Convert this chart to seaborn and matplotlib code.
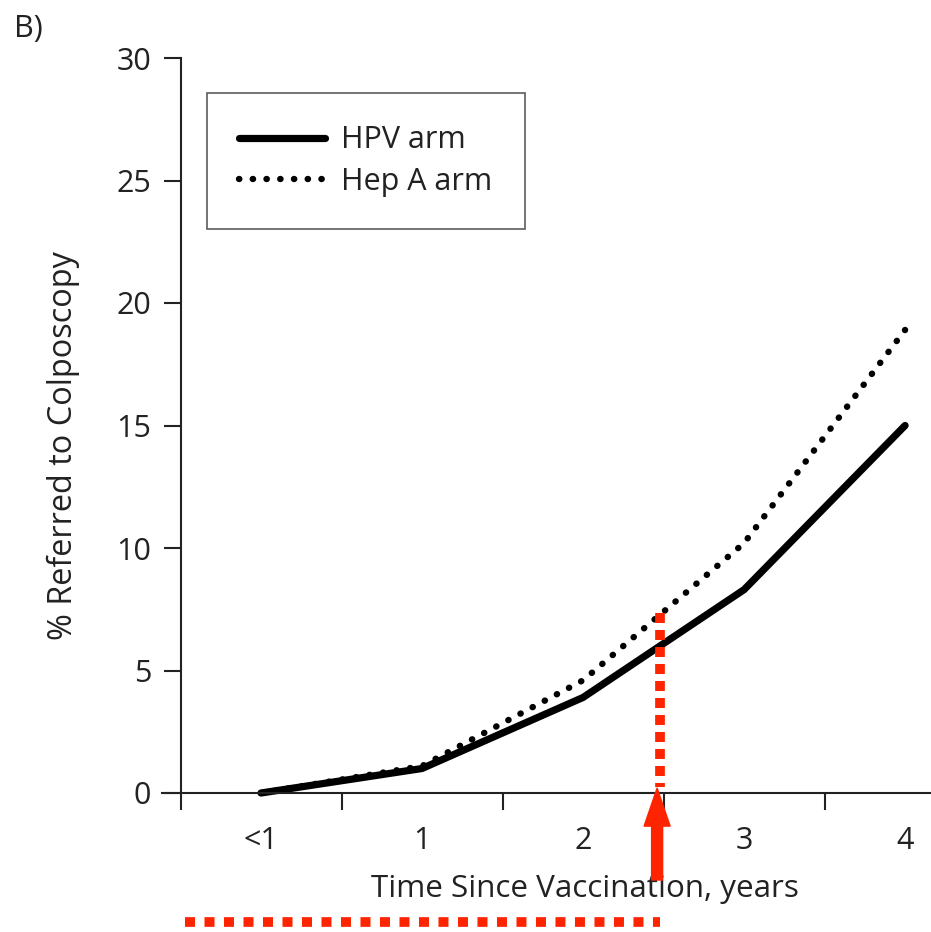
import numpy as np
import pandas as pd
import matplotlib
matplotlib.use("Agg")
import matplotlib.pyplot as plt
from matplotlib.patches import FancyArrowPatch
import seaborn as sns

# Cumulative colposcopy referral by arm
time_labels = ["<1", "1", "2", "3", "4"]
hpv_pct = [0.0, 1.0, 3.9, 8.3, 15.0]
hepa_pct = [0.0, 1.1, 4.6, 10.2, 18.9]
arm_names = ["HPV arm", "Hep A arm"]

y_ticks = [0, 5, 10, 15, 20, 25, 30]

# Highlight marker (year ~2.5)
marker_x = 2.48
marker_top = 7.35
RED = "#ff2400"
INK = "#222222"
FS = 22

sns.set_style("ticks")
plt.rcParams["font.family"] = ["Open Sans", "DejaVu Sans"]

pos = np.arange(len(time_labels))
df = pd.DataFrame({
    "pos": np.concatenate([pos, pos]),
    "pct": hpv_pct + hepa_pct,
    "arm": [arm_names[0]] * len(pos) + [arm_names[1]] * len(pos),
})

fig = plt.figure(figsize=(9.31, 9.32), dpi=100)
ax = fig.add_axes([162 / 931, 1 - 793 / 932, 769 / 931, 735 / 932])

DOTS = (0.05, 2.1)
sns.lineplot(
    data=df, x="pos", y="pct", hue="arm", style="arm",
    palette={arm_names[0]: "black", arm_names[1]: "black"},
    dashes={arm_names[0]: "", arm_names[1]: DOTS},
    linewidth=5.2, legend=False, ax=ax, clip_on=False,
)
ax.lines[0].set_solid_capstyle("round")
ax.lines[0].set_solid_joinstyle("round")
ax.lines[1].set_dash_capstyle("round")
ax.lines[1].set_linewidth(4.6)

ax.set_xlim(-0.615, 4.161)
ax.set_ylim(0, 30)

# spines
for s in ("top", "right"):
    ax.spines[s].set_visible(False)
ax.spines["left"].set_position(("data", -0.5))
ax.spines["left"].set_bounds(0, 30)
for s in ("left", "bottom"):
    ax.spines[s].set_linewidth(1.5)
    ax.spines[s].set_color(INK)

# ticks: boundaries as major ticks, category labels on minor ticks
ax.set_xticks(np.arange(len(time_labels)) - 0.5)
ax.set_xticklabels([])
ax.set_xticks(pos, minor=True)
ax.set_xticklabels(time_labels, minor=True)
ax.tick_params(axis="x", which="major", direction="out", length=12, width=1.5, color=INK)
ax.tick_params(axis="x", which="minor", length=0, pad=24, labelsize=FS, labelcolor=INK)
ax.set_yticks(y_ticks)
ax.tick_params(axis="y", direction="out", length=12, width=1.5, color=INK,
               pad=9, labelsize=FS, labelcolor=INK)

ax.set_xlabel("Time Since Vaccination, years", fontsize=22.6, color=INK, labelpad=13, x=0.55)
ax.set_ylabel("% Referred to Colposcopy", fontsize=23.4, color=INK, labelpad=26, y=0.473)

# legend
handles = [
    plt.Line2D([], [], color="black", lw=5.2, solid_capstyle="round"),
    plt.Line2D([], [], color="black", lw=4.6, linestyle=(0, DOTS), dash_capstyle="round"),
]
leg = ax.legend(handles, arm_names, loc="upper left", bbox_to_anchor=(0.0585, 0.952),
                borderaxespad=0, fontsize=FS, frameon=True, fancybox=False,
                handlelength=2.8, handletextpad=0.55, borderpad=1.05, labelspacing=0.38)
leg.get_frame().set_edgecolor("#333333")
leg.get_frame().set_linewidth(1.2)
for t in leg.get_texts():
    t.set_color(INK)

# red highlight: dotted drop line, arrow and dotted baseline
ax.plot([marker_x, marker_x], [marker_top, 0.25], color=RED, lw=7,
        linestyle=(0, (10 / 7 / 1.389, 7 / 7 / 1.389)), dash_capstyle="butt", clip_on=False)
arrow = FancyArrowPatch((marker_x - 0.02, -3.55), (marker_x - 0.02, 0.2),
                        arrowstyle="simple,head_length=1.9,head_width=1.3,tail_width=0.55",
                        mutation_scale=14.4, color=RED, shrinkA=0, shrinkB=0,
                        clip_on=False, zorder=5)
ax.add_patch(arrow)
ax.plot([-0.47, marker_x], [-5.27, -5.27], color=RED, lw=7,
        linestyle=(0, (10 / 7 / 1.389, 9.5 / 7 / 1.389)), dash_capstyle="butt", clip_on=False)

fig.text(14 / 931, 1 - 29 / 932, "B)", fontsize=FS, color=INK, va="center", ha="left")

fig.savefig("out.png", dpi=100)
